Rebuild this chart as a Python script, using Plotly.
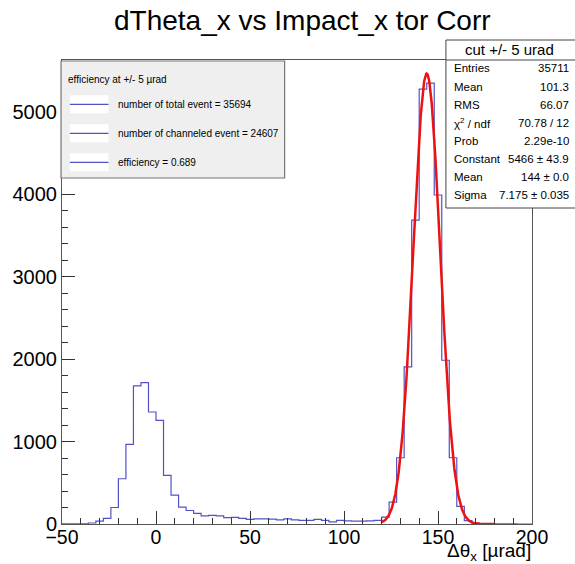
import numpy as np
import plotly.graph_objects as go

# Histogram: 4 urad bins, first bin starts at -52 urad
bin_low = -52
bin_width = 4
counts = [
    1, 1, 2, 3, 12, 35, 69, 200, 549, 966, 1675, 1715, 1359,          # -52 .. -4
    1258, 589, 350, 204, 164, 128, 98, 105, 98, 78, 80, 68, 55,        # 0 .. 48
    62, 63, 59, 51, 62, 51, 43, 43, 55, 43, 25, 43, 38, 34, 34,        # 52 .. 108
    38, 45, 83, 265, 804, 1906, 3688, 5276, 5349, 3992, 1987, 804,     # 112 .. 156
    213, 40, 10, 5, 3, 2, 1, 1, 0, 0,                                  # 160 .. 196
]

# Gaussian fit results
fit_const = 5466.0
fit_mean = 144.0
fit_sigma = 7.175
fit_range = (120.0, 180.0)

stat_names = ["Entries", "Mean", "RMS", "\u03c7<sup>2</sup> / ndf", "Prob",
              "Constant", "Mean", "Sigma"]
stat_values = ["35711", "101.3", "66.07", "70.78 / 12", "2.29e-10",
               "5466 \u00b1 43.9", "144 \u00b1 0.0", "7.175 \u00b1 0.035"]

legend_header = "efficiency at +/- 5 \u00b5rad"
legend_lines = ["number of total event = 35694",
                "number of channeled event = 24607",
                "efficiency = 0.689"]

x_range = [-50, 200]
y_range = [0, 5630]

W, H = 575, 564
L, R, T, B = 57, 532, 60, 524   # frame edges in pixels
FONT = "Liberation Sans, Arial, Helvetica, sans-serif"
HIST_COLOR = "#5252c8"


def px(xp):
    return (xp - L) / (R - L)


def py(yp):
    return (B - yp) / (B - T)


edges = [bin_low + i * bin_width for i in range(len(counts) + 1)]
step_x = edges
step_y = counts + [counts[-1]]

gx = np.linspace(fit_range[0], fit_range[1], 400)
gy = fit_const * np.exp(-0.5 * ((gx - fit_mean) / fit_sigma) ** 2)

fig = go.Figure()
fig.add_trace(go.Scatter(x=step_x, y=step_y, mode="lines", line_shape="hv",
                         line=dict(color=HIST_COLOR, width=1.2),
                         hoverinfo="skip", showlegend=False))
fig.add_trace(go.Scatter(x=gx, y=gy, mode="lines",
                         line=dict(color="#ee1111", width=2.5),
                         hoverinfo="skip", showlegend=False))

shapes = []
annotations = []

# Legend box with efficiency summary
shapes.append(dict(type="rect", xref="paper", yref="paper",
                   x0=px(56), x1=px(282), y0=py(178), y1=py(61),
                   fillcolor="#efefef", line=dict(color="#777777", width=1.2)))
annotations.append(dict(xref="paper", yref="paper", x=px(61), y=py(79),
                        xanchor="left", yanchor="middle", showarrow=False,
                        text=legend_header, font=dict(size=10, color="black", family=FONT)))
for i, txt in enumerate(legend_lines):
    yc = 104.3 + i * 29
    shapes.append(dict(type="rect", xref="paper", yref="paper",
                       x0=px(65), x1=px(104), y0=py(yc + 9), y1=py(yc - 9),
                       fillcolor="white", line=dict(width=0)))
    shapes.append(dict(type="line", xref="paper", yref="paper",
                       x0=px(65), x1=px(104), y0=py(yc), y1=py(yc),
                       line=dict(color=HIST_COLOR, width=1.2)))
    annotations.append(dict(xref="paper", yref="paper", x=px(112), y=py(yc),
                            xanchor="left", yanchor="middle", showarrow=False,
                            text=txt, font=dict(size=10, color="black", family=FONT)))

# Statistics box
shapes.append(dict(type="rect", xref="paper", yref="paper",
                   x0=px(445), x1=px(576), y0=py(208), y1=py(40),
                   fillcolor="white", line=dict(color="#444444", width=1)))
shapes.append(dict(type="line", xref="paper", yref="paper",
                   x0=px(445), x1=px(576), y0=py(60), y1=py(60),
                   line=dict(color="#444444", width=1)))
annotations.append(dict(xref="paper", yref="paper", x=px(509.5), y=py(50),
                        xanchor="center", yanchor="middle", showarrow=False,
                        text="cut +/- 5 urad", font=dict(size=15, color="black", family=FONT)))
for i, (name, val) in enumerate(zip(stat_names, stat_values)):
    yc = 68.5 + i * 18.1
    annotations.append(dict(xref="paper", yref="paper", x=px(451), y=py(yc),
                            xanchor="left", yanchor="middle", showarrow=False,
                            text=name, font=dict(size=11.5, color="black", family=FONT)))
    annotations.append(dict(xref="paper", yref="paper", x=px(571), y=py(yc),
                            xanchor="right", yanchor="middle", showarrow=False,
                            text=val, font=dict(size=11.5, color="black", family=FONT)))

# Title and x-axis label
annotations.append(dict(xref="paper", yref="paper", x=px(300), y=py(21),
                        xanchor="center", yanchor="middle", showarrow=False,
                        text="dTheta_x vs Impact_x tor Corr",
                        font=dict(size=28, color="black", family=FONT)))
annotations.append(dict(xref="paper", yref="paper", x=px(533), y=py(552),
                        xanchor="right", yanchor="middle", showarrow=False,
                        text="\u0394\u03b8<sub>x</sub> [\u00b5rad]",
                        font=dict(size=19, color="black", family=FONT)))

fig.update_layout(
    width=W, height=H,
    margin=dict(l=L, r=W - R, t=T, b=H - B, pad=0),
    paper_bgcolor="white", plot_bgcolor="white",
    showlegend=False,
    shapes=shapes, annotations=annotations,
    font=dict(family=FONT, color="black"),
)
fig.update_xaxes(range=x_range, showgrid=False, zeroline=False,
                 showline=True, linecolor="#555555", linewidth=1, mirror=True,
                 ticks="inside", ticklen=13, tickcolor="#333333", tickwidth=1,
                 dtick=50, tick0=0, ticklabelstandoff=-4,
                 minor=dict(ticks="inside", ticklen=6, dtick=10, tick0=0,
                            tickcolor="#333333", showgrid=False),
                 tickfont=dict(size=19.5, color="black", family=FONT))
fig.update_yaxes(range=y_range, showgrid=False, zeroline=False,
                 showline=True, linecolor="#555555", linewidth=1, mirror=True,
                 ticks="inside", ticklen=13, tickcolor="#333333", tickwidth=1,
                 dtick=1000, tick0=0,
                 minor=dict(ticks="inside", ticklen=6, dtick=200, tick0=0,
                            tickcolor="#333333", showgrid=False),
                 tickfont=dict(size=20, color="black", family=FONT))

fig.write_html("out.html")
